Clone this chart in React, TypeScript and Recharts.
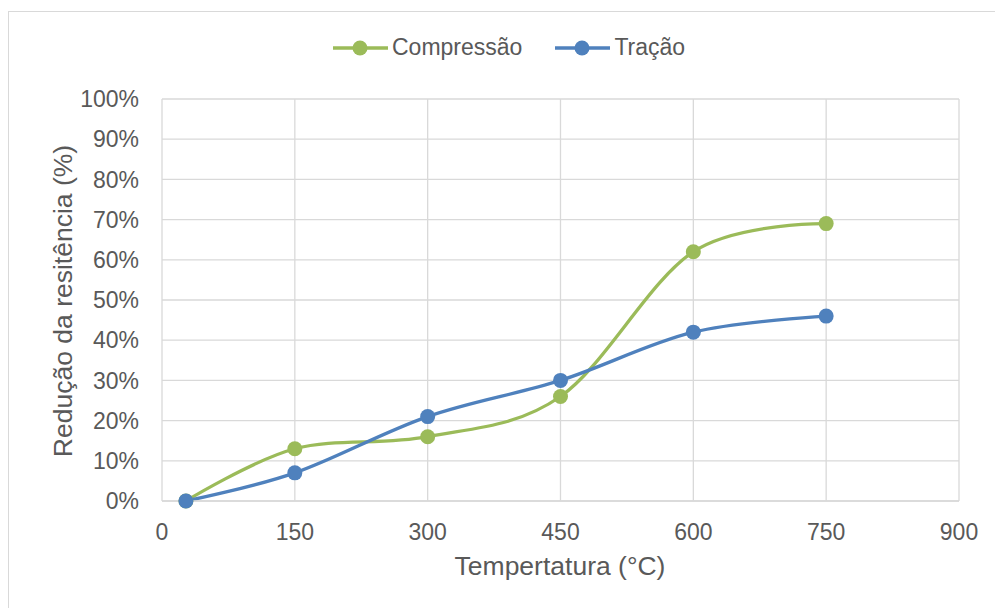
import { LineChart, Line, XAxis, YAxis, CartesianGrid, Label } from 'recharts'

const temperatures = [27, 150, 300, 450, 600, 750]
const compressao = [0, 13, 16, 26, 62, 69]
const tracao = [0, 7, 21, 30, 42, 46]
const xTicks = [0, 150, 300, 450, 600, 750, 900]
const yTicks = [0, 10, 20, 30, 40, 50, 60, 70, 80, 90, 100]

const data = temperatures.map((t, i) => ({ t, compressao: compressao[i], tracao: tracao[i] }))

const GREEN = '#9BBB59'
const BLUE = '#4F81BD'
const TEXT = '#595959'
const GRID = '#D9D9D9'
const FONT = '"Liberation Sans", Arial, sans-serif'

// Excel-like smooth line (uniform Catmull-Rom / cardinal spline, tension 0)
function smoothCurve(context: any) {
  const k = 1 / 6
  let x0 = NaN, x1 = NaN, x2 = NaN, y0 = NaN, y1 = NaN, y2 = NaN
  let pt = 0
  const seg = (x: number, y: number) => {
    context.bezierCurveTo(
      x1 + k * (x2 - x0), y1 + k * (y2 - y0),
      x2 + k * (x1 - x), y2 + k * (y1 - y),
      x2, y2
    )
  }
  return {
    areaStart() {},
    areaEnd() {},
    lineStart() {
      x0 = x1 = x2 = y0 = y1 = y2 = NaN
      pt = 0
    },
    lineEnd() {
      if (pt === 2) context.lineTo(x2, y2)
      else if (pt === 3) seg(x1, y1)
    },
    point(x: number, y: number) {
      x = +x
      y = +y
      if (pt === 0) {
        pt = 1
        context.moveTo(x, y)
      } else if (pt === 1) {
        pt = 2
        x1 = x
        y1 = y
      } else {
        pt = 3
        seg(x, y)
      }
      x0 = x1; x1 = x2; x2 = x
      y0 = y1; y1 = y2; y2 = y
    },
  }
}

const series = [
  { key: 'compressao', name: 'Compressão', color: GREEN },
  { key: 'tracao', name: 'Tração', color: BLUE },
]

function LegendContent() {
  return (
    <div style={{ display: 'flex', alignItems: 'center', fontFamily: FONT, fontSize: 23, color: TEXT }}>
      {series.map((s, i) => (
        <div key={s.key} style={{ display: 'flex', alignItems: 'center', marginRight: i === 0 ? 33 : 0 }}>
          <svg width={55} height={16} style={{ marginRight: 4 }}>
            <line x1={0} y1={8} x2={55} y2={8} stroke={s.color} strokeWidth={3.3} />
            <circle cx={27} cy={8} r={7.5} fill={s.color} />
          </svg>
          <span>{s.name}</span>
        </div>
      ))}
    </div>
  )
}

export default function App() {
  return (
    <div style={{ position: 'absolute', left: 0, top: 0, width: 995, height: 608, background: '#fff', overflow: 'hidden' }}>
      <div style={{ position: 'absolute', left: 8, top: 11, width: 1000, height: 620, border: `1px solid ${GRID}` }} />
      <div style={{ position: 'absolute', left: 333, top: 34 }}>
        <LegendContent />
      </div>
      <div style={{ position: 'absolute', left: 0, top: 0 }}>
        <LineChart width={995} height={608} data={data} margin={{ top: 99, right: 36, bottom: 0, left: 0 }}>
          <CartesianGrid stroke={GRID} strokeWidth={1.3} />
          <XAxis
            dataKey="t"
            type="number"
            domain={[0, 900]}
            ticks={xTicks}
            interval={0}
            height={107}
            axisLine={{ stroke: GRID, strokeWidth: 1.3 }}
            tickLine={false}
            tickSize={0}
            tickMargin={23}
            tick={{ fill: TEXT, fontSize: 23, fontFamily: FONT }}
          >
            <Label
              content={() => (
                <text x={560} y={575} textAnchor="middle" fill={TEXT} fontSize={26.5} fontFamily={FONT}>
                  Tempertatura (°C)
                </text>
              )}
            />
          </XAxis>
          <YAxis
            type="number"
            domain={[0, 100]}
            ticks={yTicks}
            interval={0}
            width={162}
            axisLine={false}
            tickLine={false}
            tickSize={0}
            tickMargin={23}
            tickFormatter={(v: number) => `${v}%`}
            tick={{ fill: TEXT, fontSize: 23, fontFamily: FONT }}
          >
            <Label
              content={() => (
                <text
                  x={72}
                  y={301}
                  transform="rotate(-90, 72, 301)"
                  textAnchor="middle"
                  fill={TEXT}
                  fontSize={26.5}
                  fontFamily={FONT}
                >
                  Redução da resitência (%)
                </text>
              )}
            />
          </YAxis>
          {series.map((s) => (
            <Line
              key={s.key}
              dataKey={s.key}
              name={s.name}
              type={smoothCurve as any}
              stroke={s.color}
              strokeWidth={3.3}
              dot={{ r: 7.5, fill: s.color, stroke: s.color, strokeWidth: 0 }}
              activeDot={false}
              isAnimationActive={false}
            />
          ))}
        </LineChart>
      </div>
    </div>
  )
}
